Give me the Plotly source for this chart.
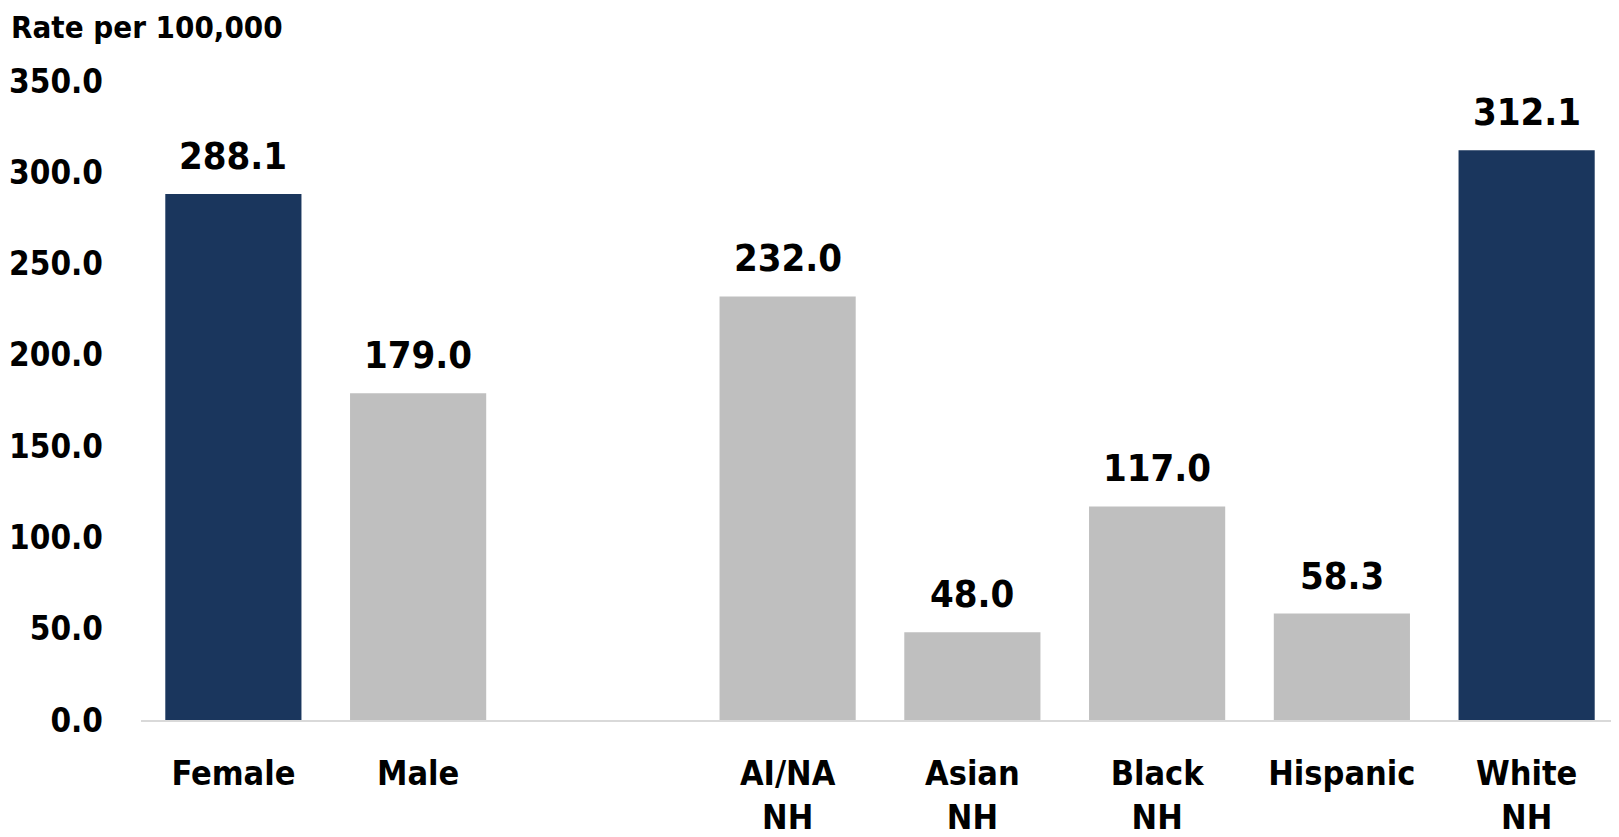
import plotly.graph_objects as go

categories = ["Female", "Male", " ", "AI/NA<br>NH", "Asian<br>NH", "Black<br>NH", "Hispanic", "White<br>NH"]
rates = [288.1, 179.0, None, 232.0, 48.0, 117.0, 58.3, 312.1]
highlighted = {"Female", "White<br>NH"}
y_ticks = [0, 50, 100, 150, 200, 250, 300, 350]

NAVY = "#1a365d"
GRAY = "#bfbfbf"
FONT = "DejaVu Sans Condensed, Liberation Sans Narrow, sans-serif"

colors = [NAVY if c in highlighted else GRAY for c in categories]

fig = go.Figure(go.Bar(
    x=categories, y=rates, marker=dict(color=colors, line=dict(width=0)),
    hoverinfo="skip",
))

for c, v in zip(categories, rates):
    if v is None:
        continue
    fig.add_annotation(x=c, y=v, text=f"<b>{v:.1f}</b>", showarrow=False,
                       yanchor="bottom", yshift=14,
                       font=dict(family=FONT, size=38, color="black"))

fig.add_annotation(xref="paper", yref="paper", x=0, y=1, xshift=-131, yshift=73,
                   xanchor="left", yanchor="top", showarrow=False,
                   text="<b>Rate per 100,000</b>", borderpad=0,
                   font=dict(family=FONT, size=31, color="black"))

# page body has an 8px margin, so the figure is 8px smaller and offset
fig.update_layout(
    width=1611, height=829,
    margin=dict(l=133, r=0, t=73, b=117),
    paper_bgcolor="white", plot_bgcolor="white",
    bargap=0.263, showlegend=False,
    font=dict(family=FONT, color="black"),
)
fig.update_xaxes(
    type="category", categoryorder="array", categoryarray=categories,
    tickfont=dict(family=FONT, size=34, color="black"),
    showline=True, linecolor="#d9d9d9", linewidth=2,
    showgrid=False, ticks="", ticklabelstandoff=22, automargin=False,
    tickvals=categories, ticktext=[f"<b>{c}</b>" if c.strip() else "" for c in categories],
)
fig.update_yaxes(
    range=[0, 350], tickvals=y_ticks,
    ticktext=[f"<b>{t:.1f}</b>" for t in y_ticks],
    tickfont=dict(family=FONT, size=33, color="black"),
    showgrid=False, zeroline=False, showline=False, ticks="",
    ticklabelstandoff=37, automargin=False,
)

fig.write_html("out.html")
